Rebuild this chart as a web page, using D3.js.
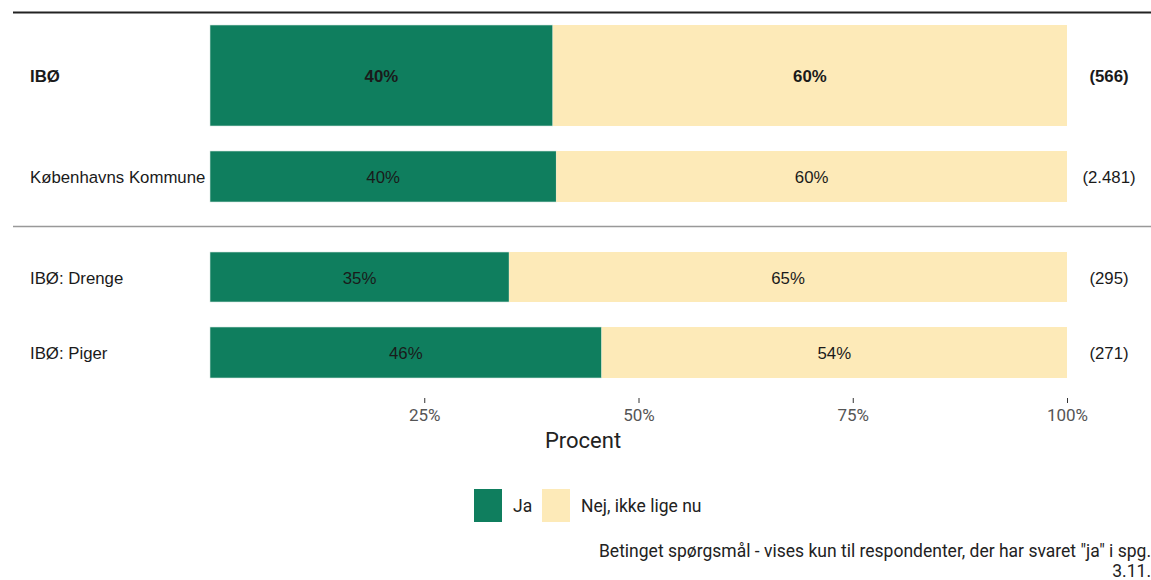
<!DOCTYPE html>
<html><head><meta charset="utf-8">
<script src="https://cdn.jsdelivr.net/npm/d3@7"></script>
<style>
body{margin:0;background:#fff;}
svg{display:block;}
.lab{font-family:"Liberation Sans",Arial,sans-serif;font-size:16.8px;fill:#1a1a1a;}
.cond{font-family:Roboto,"Noto Sans",sans-serif;}
</style></head><body>
<svg id="c" width="1151" height="580"></svg>
<script>
const categories = ["IBØ", "Københavns Kommune", "IBØ: Drenge", "IBØ: Piger"];
const jaValues = [40.0, 40.4, 34.9, 45.7];
const jaLabels = ["40%", "40%", "35%", "46%"];
const nejLabels = ["60%", "60%", "65%", "54%"];
const nLabels = ["(566)", "(2.481)", "(295)", "(271)"];
const bold = [true, false, false, false];
const panel = [0, 0, 1, 1];
const seriesNames = ["Ja", "Nej, ikke lige nu"];
const tickValues = [25, 50, 75, 100];
const caption = ["Betinget spørgsmål - vises kun til respondenter, der har svaret \"ja\" i spg.", "3.11."];

const colors = {"Ja":"#0f7e5e", "Nej, ikke lige nu":"#fdeab8"};
const svg = d3.select("#c");
const x = d3.scaleLinear().domain([0,100]).range([210,1067]);

// row layout (centres / thickness)
const yCenter = d3.scaleOrdinal().domain(categories).range([75.5, 176.5, 277, 352.5]);
const thick = d3.scaleOrdinal().domain(categories).range([101, 51, 50, 51]);

const rows = categories.map((c,i)=>({c, ja:jaValues[i], jl:jaLabels[i], nl:nejLabels[i], n:nLabels[i], b:bold[i], p:panel[i]}));

// separator lines
svg.append("line").attr("x1",13).attr("x2",1151).attr("y1",12.5).attr("y2",12.5).attr("stroke","#222").attr("stroke-width",2);
svg.append("line").attr("x1",13).attr("x2",1151).attr("y1",226.5).attr("y2",226.5).attr("stroke","#999").attr("stroke-width",1.5);

const g = svg.selectAll("g.row").data(rows).join("g").attr("class","row");
g.append("rect").attr("x",x(0)).attr("width",d=>x(d.ja)-x(0))
  .attr("y",d=>yCenter(d.c)-thick(d.c)/2).attr("height",d=>thick(d.c))
  .attr("fill",colors["Ja"]).attr("stroke","#d8e8e0").attr("stroke-width",0.6);
g.append("rect").attr("x",d=>x(d.ja)).attr("width",d=>x(100)-x(d.ja))
  .attr("y",d=>yCenter(d.c)-thick(d.c)/2).attr("height",d=>thick(d.c))
  .attr("fill",colors["Nej, ikke lige nu"]);
g.append("text").attr("class","lab").attr("x",d=>(x(0)+x(d.ja))/2).attr("y",d=>yCenter(d.c)+1).attr("dy","0.35em")
  .attr("text-anchor","middle").attr("font-weight",d=>d.b?"bold":"normal").text(d=>d.jl);
g.append("text").attr("class","lab").attr("x",d=>(x(d.ja)+x(100))/2).attr("y",d=>yCenter(d.c)+1).attr("dy","0.35em")
  .attr("text-anchor","middle").attr("font-weight",d=>d.b?"bold":"normal").text(d=>d.nl);
g.append("text").attr("class","lab").attr("x",30).attr("y",d=>yCenter(d.c)+1).attr("dy","0.35em")
  .attr("font-weight",d=>d.b?"bold":"normal").text(d=>d.c);
g.append("text").attr("class","lab").attr("x",1109).attr("y",d=>yCenter(d.c)+1).attr("dy","0.35em")
  .attr("text-anchor","middle").attr("font-weight",d=>d.b?"bold":"normal").text(d=>d.n);

// axis
const axis = d3.axisBottom(x).tickValues(tickValues).tickFormat(d=>d+"%").tickSize(5).tickPadding(6);
const ax = svg.append("g").attr("transform","translate(0,398)").call(axis);
ax.select(".domain").remove();
ax.selectAll(".tick line").attr("stroke","#333");
ax.selectAll(".tick text").attr("class","cond").attr("font-size",17).attr("fill","#555");
svg.append("text").attr("class","cond").attr("x",583).attr("y",448).attr("text-anchor","middle")
  .attr("font-size",22).attr("fill","#222").text("Procent");

// legend
const lg = svg.append("g").attr("transform","translate(474,489)");
const lx = [0, 68];
seriesNames.forEach((s,i)=>{
  lg.append("rect").attr("x",lx[i]).attr("y",0).attr("width",28).attr("height",33).attr("fill",colors[s]);
  lg.append("text").attr("class","cond").attr("x",lx[i]+39).attr("y",17).attr("dy","0.35em")
    .attr("font-size",17.5).attr("fill","#222").text(s);
});

// caption
caption.forEach((t,i)=>{
  svg.append("text").attr("class","cond").attr("x",1151).attr("y",557+i*20).attr("text-anchor","end")
    .attr("font-size",17.5).attr("fill","#222").text(t);
});
</script>
</body></html>
